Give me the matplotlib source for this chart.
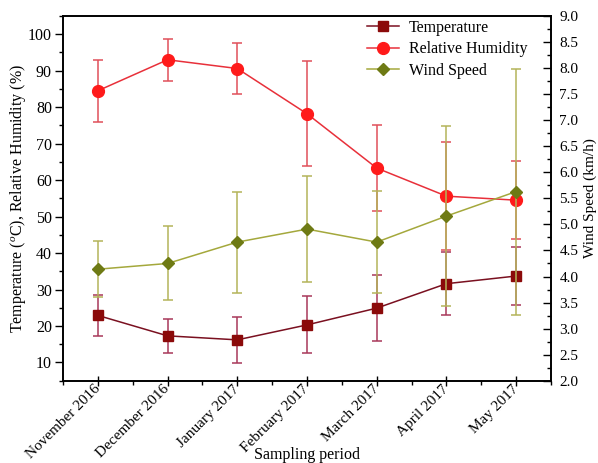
import matplotlib
matplotlib.use("Agg")
import matplotlib.pyplot as plt
from matplotlib.ticker import MultipleLocator
import numpy as np

plt.rcParams['font.family'] = ['Liberation Serif', 'DejaVu Serif']
plt.rcParams['mathtext.fontset'] = 'custom'
plt.rcParams['mathtext.rm'] = 'Liberation Serif'
plt.rcParams['mathtext.it'] = 'Liberation Serif:italic'

periods = ["November 2016", "December 2016", "January 2017", "February 2017",
           "March 2017", "April 2017", "May 2017"]
temperature = [22.9, 17.3, 16.2, 20.3, 24.9, 31.6, 33.7]
temperature_err = [5.6, 4.7, 6.3, 7.8, 9.1, 8.6, 8.0]
humidity = [84.5, 93.0, 90.6, 78.2, 63.3, 55.6, 54.5]
humidity_err = [8.5, 5.7, 7.1, 14.4, 11.9, 14.8, 10.7]
wind = [4.14, 4.25, 4.66, 4.91, 4.66, 5.16, 5.63]
wind_err = [0.54, 0.71, 0.97, 1.02, 0.98, 1.72, 2.36]

fs = 11.5
fig = plt.figure(figsize=(5.98, 4.63), dpi=100)
ax = fig.add_axes([63/598, 1-380.7/463, 488/598, 364.7/463])
ax2 = ax.twinx()

x = np.arange(len(periods))

c_temp = '#8b0a0a'
c_temp_err = '#a8385a'
c_hum = '#ff1a1a'
c_hum_line = '#e8303a'
c_hum_err = '#e0505a'
c_wind = '#6e7a14'
c_wind_line = '#a4a83c'
c_wind_err = '#b4b45a'

ax.errorbar(x, temperature, yerr=temperature_err, color=c_temp, ecolor=c_temp_err,
            elinewidth=1.1, capsize=3.5, capthick=1.1, zorder=3, fmt='none')
l1, = ax.plot(x, temperature, color='#7a1020', lw=1.1, marker='s', ms=7,
              mfc=c_temp, mec=c_temp, zorder=4, label='Temperature')
ax.errorbar(x, humidity, yerr=humidity_err, color=c_hum, ecolor=c_hum_err,
            elinewidth=1.1, capsize=3.5, capthick=1.1, zorder=3, fmt='none')
l2, = ax.plot(x, humidity, color=c_hum_line, lw=1.1, marker='o', ms=8.5,
              mfc=c_hum, mec=c_hum, zorder=4, label='Relative Humidity')
ax2.errorbar(x, wind, yerr=wind_err, color=c_wind, ecolor=c_wind_err,
             elinewidth=1.1, capsize=3.5, capthick=1.1, zorder=3, fmt='none')
l3, = ax2.plot(x, wind, color=c_wind_line, lw=1.1, marker='D', ms=6.5,
               mfc=c_wind, mec=c_wind, zorder=4, label='Wind Speed')

ax.set_xlim(-0.5, 6.5)
ax.set_ylim(5, 105)
ax2.set_ylim(2, 9)

ax.set_xticks(x)
ax.set_xticklabels(periods, rotation=45, ha='right', va='center',
                   rotation_mode='anchor', fontsize=11)
ax.xaxis.set_minor_locator(MultipleLocator(0.5))
ax.yaxis.set_minor_locator(MultipleLocator(5))
ax.set_yticks(np.arange(10, 101, 10))
ax2.yaxis.set_minor_locator(MultipleLocator(0.25))
ax2.set_yticks(np.arange(2, 9.01, 0.5))
ax2.set_yticklabels([f"{v:.1f}" for v in np.arange(2, 9.01, 0.5)], fontsize=11)
ax.tick_params(axis='y', which='major', direction='out', length=6, width=1, labelsize=fs, pad=2)
ax.tick_params(axis='y', which='minor', direction='out', length=3, width=1)
ax.tick_params(axis='x', which='major', direction='inout', length=7, width=1, pad=1)
ax.tick_params(axis='x', which='minor', direction='out', length=3, width=1)
ax2.tick_params(axis='y', which='major', direction='in', length=6, width=1, pad=6)
ax2.tick_params(axis='y', which='minor', direction='in', length=3, width=1)

for a in (ax, ax2):
    for s in a.spines.values():
        s.set_linewidth(1.2)

ax.set_xlabel('Sampling period', fontsize=fs)
ax.xaxis.set_label_coords(0.5, -0.182)
ax.set_ylabel(r'Temperature ($^{o}$C), Relative Humidity (%)', fontsize=fs)
ax.yaxis.set_label_coords(-0.072, 0.5)
ax2.set_ylabel('Wind Speed (km/h)', fontsize=11)
ax2.yaxis.set_label_coords(1.067, 0.5)

ax.legend(handles=[l1, l2, l3], loc='upper left', bbox_to_anchor=(0.623, 0.99),
          frameon=False, fontsize=fs, borderpad=0, borderaxespad=0,
          handlelength=2.0, handletextpad=0.6, labelspacing=0.35)

fig.savefig('out.png', dpi=100)
